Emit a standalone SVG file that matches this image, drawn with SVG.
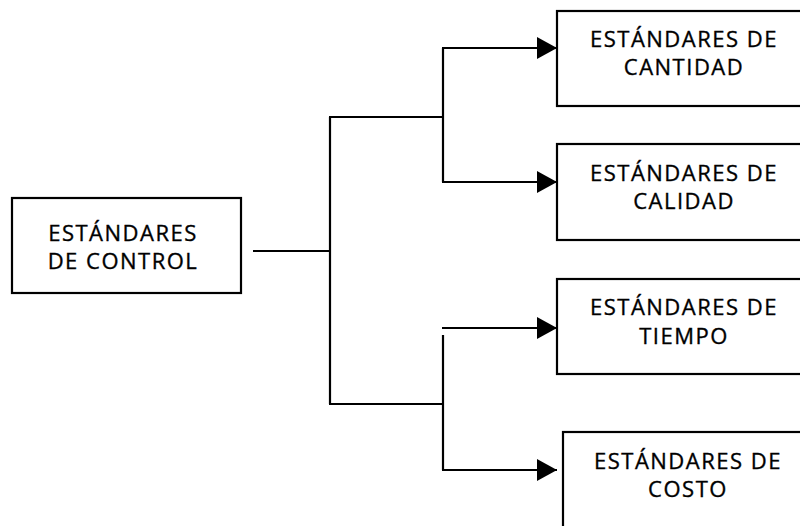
<svg xmlns="http://www.w3.org/2000/svg" width="800" height="526" viewBox="0 0 800 526">
  <style>
    .box { fill: #ffffff; stroke: #000000; stroke-width: 2.2; }
    .label { font-family: "Open Sans", "Liberation Sans", sans-serif; font-size: 22px; letter-spacing: 1.5px; fill: #000000; stroke: #000000; stroke-width: 0.35; text-anchor: middle; }
    .wire { fill: none; stroke: #000000; stroke-width: 2.2; }
  </style>
  <defs>
    <marker id="arrow" viewBox="0 0 20 22" refX="20" refY="11" markerWidth="20" markerHeight="22" markerUnits="userSpaceOnUse" orient="auto">
      <path d="M0,0 L20,11 L0,22 Z" fill="#000000"/>
    </marker>
  </defs>
  <rect width="800" height="526" fill="#ffffff"/>

  <g id="connectors">
    <!-- root to trunk -->
    <path class="wire" d="M253,251 H329"/>
    <!-- trunk -->
    <path class="wire" d="M330,117 V404"/>
    <!-- upper fork -->
    <path class="wire" d="M329,117 H443"/>
    <path class="wire" d="M443,48 V182"/>
    <path class="wire" d="M442,48 H557" marker-end="url(#arrow)"/>
    <path class="wire" d="M442,182 H557" marker-end="url(#arrow)"/>
    <!-- lower fork -->
    <path class="wire" d="M329,404 H443"/>
    <path class="wire" d="M443,335 V470"/>
    <path class="wire" d="M442,328 H557" marker-end="url(#arrow)"/>
    <path class="wire" d="M442,470 H557" marker-end="url(#arrow)"/>
  </g>

  <g id="control">
    <rect class="box" x="12" y="198" width="229" height="95"/>
    <text class="label"><tspan x="123" y="241">ESTÁNDARES</tspan><tspan x="123" y="269">DE CONTROL</tspan></text>
  </g>

  <g id="cantidad">
    <rect class="box" x="557" y="11" width="260" height="95"/>
    <text class="label"><tspan x="684" y="47">ESTÁNDARES DE</tspan><tspan x="684" y="75">CANTIDAD</tspan></text>
  </g>

  <g id="calidad">
    <rect class="box" x="557" y="144" width="260" height="96"/>
    <text class="label"><tspan x="684" y="181">ESTÁNDARES DE</tspan><tspan x="684" y="209">CALIDAD</tspan></text>
  </g>

  <g id="tiempo">
    <rect class="box" x="557" y="279" width="260" height="95"/>
    <text class="label"><tspan x="684" y="315">ESTÁNDARES DE</tspan><tspan x="684" y="344">TIEMPO</tspan></text>
  </g>

  <g id="costo">
    <rect class="box" x="563" y="432" width="260" height="110"/>
    <text class="label"><tspan x="688" y="469">ESTÁNDARES DE</tspan><tspan x="688" y="497">COSTO</tspan></text>
  </g>
</svg>
